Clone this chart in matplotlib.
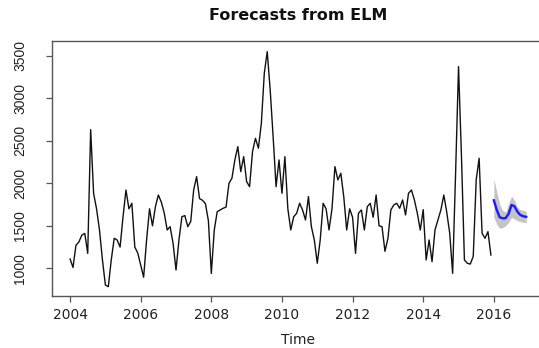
import numpy as np
import matplotlib
matplotlib.use("Agg")
import matplotlib.pyplot as plt

# Monthly observed series, Jan 2004 .. Dec 2015
y2004 = [1110, 1010, 1270, 1310, 1390, 1410, 1176, 2630, 1880, 1700, 1450, 1100]
y2005 = [804, 784, 1100, 1353, 1333, 1250, 1607, 1921, 1700, 1765, 1250, 1180]
y2006 = [1040, 895, 1333, 1700, 1500, 1725, 1862, 1780, 1650, 1451, 1490, 1294]
y2007 = [980, 1333, 1607, 1620, 1490, 1550, 1921, 2078, 1820, 1800, 1760, 1560]
y2008 = [940, 1450, 1666, 1686, 1706, 1720, 2000, 2059, 2274, 2431, 2137, 2313]
y2009 = [2019, 1960, 2372, 2529, 2412, 2706, 3294, 3548, 3098, 2548, 1960, 2274]
y2010 = [1882, 2313, 1700, 1451, 1607, 1647, 1765, 1686, 1568, 1843, 1490, 1333]
y2011 = [1059, 1333, 1765, 1700, 1451, 1700, 2196, 2039, 2118, 1843, 1451, 1700]
y2012 = [1600, 1176, 1647, 1686, 1451, 1725, 1765, 1600, 1862, 1500, 1490, 1200]
y2013 = [1350, 1686, 1745, 1765, 1706, 1804, 1627, 1882, 1921, 1804, 1647, 1450]
y2014 = [1690, 1098, 1333, 1078, 1451, 1568, 1686, 1862, 1660, 1412, 941, 2118]
y2015 = [3372, 2313, 1098, 1059, 1050, 1140, 2039, 2294, 1412, 1353, 1431, 1156]

# ELM forecast for 2016: ensemble mean and ensemble spread
fc_mean = [1800, 1686, 1600, 1588, 1590, 1640, 1745, 1730, 1666, 1627, 1612, 1605]
fc_upper = [2050, 1900, 1750, 1680, 1660, 1760, 1850, 1800, 1720, 1690, 1680, 1670]
fc_lower = [1600, 1520, 1470, 1480, 1500, 1540, 1600, 1580, 1560, 1550, 1540, 1540]

x_ticks = [2004, 2006, 2008, 2010, 2012, 2014, 2016]
y_ticks = [1000, 1500, 2000, 2500, 3000, 3500]

observed = np.array(y2004 + y2005 + y2006 + y2007 + y2008 + y2009 +
                    y2010 + y2011 + y2012 + y2013 + y2014 + y2015, dtype=float)
t_obs = 2004 + np.arange(len(observed)) / 12.0
t_fc = 2016 + np.arange(len(fc_mean)) / 12.0

W, H = 539, 348
fig = plt.figure(figsize=(W / 100, H / 100), dpi=100)
left, right, top, bottom = 51.7, 544.7, 41.0, 295.7
ax = fig.add_axes([left / W, 1 - bottom / H, (right - left) / W, (bottom - top) / H])

ax.fill_between(t_fc, fc_lower, fc_upper, color="#c4c4c4", lw=0, zorder=1)
ax.plot(t_obs, observed, color="#111111", lw=1.0, zorder=2)
ax.plot(t_fc, fc_mean, color="#1a1aff", lw=1.7, zorder=3)

ax.set_xlim(2003.48, 2017.44)
ax.set_ylim(678, 3673)
ax.set_xticks(x_ticks)
ax.set_yticks(y_ticks)

for s in ax.spines.values():
    s.set_color("#555555")
    s.set_linewidth(1.0)

ax.tick_params(axis="both", direction="out", length=4.5, width=0.9, color="#555555")
ax.tick_params(axis="x", pad=4)
ax.tick_params(axis="y", pad=13)

for lab in ax.get_xticklabels():
    lab.set_family("DejaVu Sans")
    lab.set_fontsize(10)
    lab.set_color("#222222")
for lab in ax.get_yticklabels():
    lab.set_family(["Liberation Sans Narrow", "Liberation Sans"])
    lab.set_fontsize(10)
    lab.set_rotation(90)
    lab.set_va("center")
    lab.set_color("#222222")

ax.set_xlabel("Time", fontsize=10, family="DejaVu Sans", color="#222222", va="center")
ax.xaxis.set_label_coords(0.5, -(339.5 - bottom) / (bottom - top))
fig.text((left + right) / 2 / W, 1 - 16 / H, "Forecasts from ELM", ha="center", va="center",
         fontsize=11.5, fontweight="bold", family="DejaVu Sans", color="#111111")

fig.savefig("out.png", dpi=100)
